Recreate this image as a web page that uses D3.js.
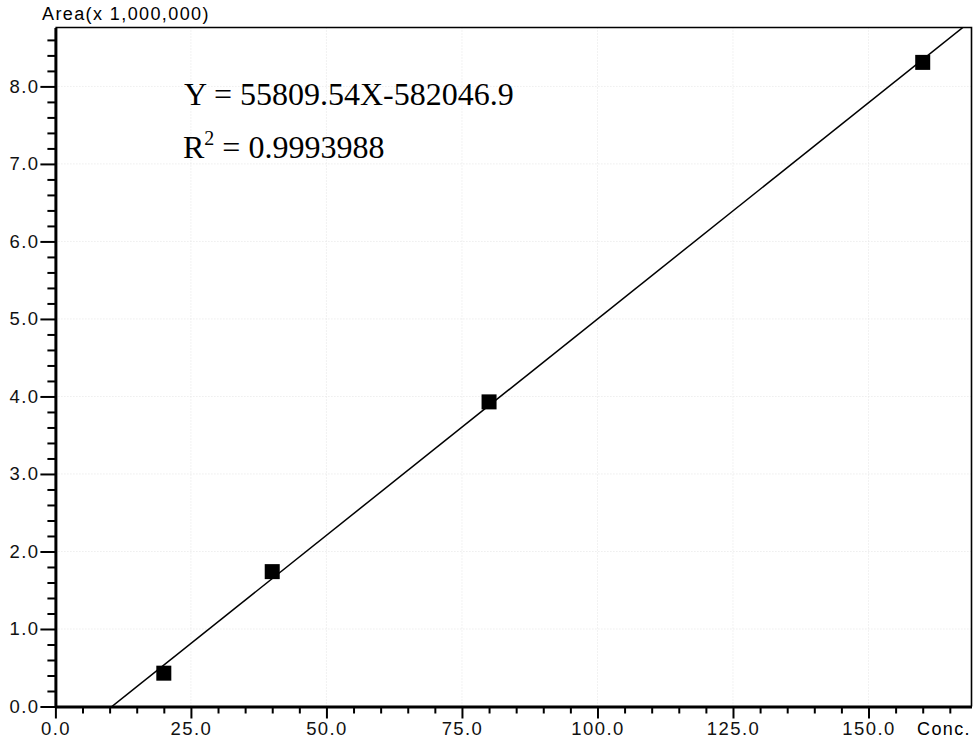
<!DOCTYPE html>
<html>
<head>
<meta charset="utf-8">
<script src="https://cdn.jsdelivr.net/npm/d3@7"></script>
<style>
  body { margin: 0; background: #fff; }
  svg { display: block; }
  .tick text { font-family: "Liberation Sans", Arial, sans-serif; font-size: 18.5px; letter-spacing: 1.4px; fill: #111; }
</style>
</head>
<body>
<script>
// calibration points (Conc., Area in millions)
var conc = [20, 40, 80, 160];
var area = [0.43, 1.74, 3.93, 8.31];

// regression result shown on the chart
var slope = 55809.54;
var intercept = -582046.9;
var r2 = "0.9993988";

// axis ticks
var xMajor = [0, 25, 50, 75, 100, 125, 150];
var xMinor = [5, 10, 15, 20, 30, 35, 40, 45, 55, 60, 65, 70, 80, 85, 90, 95, 105, 110, 115, 120, 130, 135, 140, 145, 155, 160, 165];
var yMajor = [0, 1, 2, 3, 4, 5, 6, 7, 8];
var yMinor = [];
yMajor.forEach(function(v) { [0.2, 0.4, 0.6, 0.8].forEach(function(f) { if (v + f < 8.7) yMinor.push(+(v + f).toFixed(1)); }); });

//---------setup plot-----------------------//
var W = 977, H = 745;
var pLeft = 55.4, pTop = 27.5, pRight = 971.5, pBottom = 706.5;

var x = d3.scaleLinear().domain([0, 169]).range([pLeft, pRight]);
var y = d3.scaleLinear().domain([0, 8.76]).range([pBottom, pTop]);

var svg = d3.select("body").append("svg")
    .attr("width", W)
    .attr("height", H);

svg.append("defs").append("clipPath").attr("id", "plot")
  .append("rect")
    .attr("x", pLeft).attr("y", pTop)
    .attr("width", pRight - pLeft).attr("height", pBottom - pTop);

// faint dotted gridlines
svg.append("g")
    .selectAll("line")
    .data(xMajor.slice(1))
    .enter().append("line")
    .attr("x1", function(d) { return x(d); }).attr("x2", function(d) { return x(d); })
    .attr("y1", pTop).attr("y2", pBottom)
    .attr("stroke", "#e4e4e4").attr("stroke-dasharray", "1,2");

svg.append("g")
    .selectAll("line")
    .data(yMajor.slice(1))
    .enter().append("line")
    .attr("y1", function(d) { return y(d); }).attr("y2", function(d) { return y(d); })
    .attr("x1", pLeft).attr("x2", pRight)
    .attr("stroke", "#e4e4e4").attr("stroke-dasharray", "1,2");

// top & right frame
svg.append("path")
    .attr("d", "M" + pLeft + "," + pTop + "H" + pRight + "V" + pBottom)
    .attr("fill", "none").attr("stroke", "#000").attr("stroke-width", 1.6);

// minor ticks
svg.append("g")
    .attr("transform", "translate(0," + pBottom + ")")
    .call(d3.axisBottom(x).tickValues(xMinor).tickSize(7).tickFormat(""))
    .call(function(g) { g.select(".domain").remove(); g.selectAll("line").attr("stroke-width", 2); });

svg.append("g")
    .attr("transform", "translate(" + pLeft + ",0)")
    .call(d3.axisLeft(y).tickValues(yMinor).tickSize(8).tickFormat(""))
    .call(function(g) { g.select(".domain").remove(); g.selectAll("line").attr("stroke-width", 2); });

// x-axis
svg.append("g")
    .attr("transform", "translate(0," + pBottom + ")")
    .call(d3.axisBottom(x).tickValues(xMajor).tickSize(12).tickSizeOuter(0).tickPadding(3).tickFormat(d3.format(".1f")))
    .call(function(g) {
        g.select(".domain").attr("stroke-width", 3);
        g.selectAll("line").attr("stroke-width", 2);
    });

// y-axis
svg.append("g")
    .attr("transform", "translate(" + pLeft + ",0)")
    .call(d3.axisLeft(y).tickValues(yMajor).tickSize(15).tickSizeOuter(0).tickPadding(1).tickFormat(d3.format(".1f")))
    .call(function(g) {
        g.select(".domain").attr("stroke-width", 3);
        g.selectAll("line").attr("stroke-width", 2);
    });

// axis titles
svg.append("text")
    .attr("x", 42).attr("y", 20)
    .style("font-family", "Liberation Sans, Arial, sans-serif")
    .style("font-size", "18px").style("letter-spacing", "1.4px")
    .text("Area(x 1,000,000)");

svg.append("text")
    .attr("x", 917).attr("y", 735)
    .style("font-family", "Liberation Sans, Arial, sans-serif")
    .style("font-size", "18px").style("letter-spacing", "1.4px")
    .text("Conc.");

//-------------data----------//
var fit = function(c) { return (slope * c + intercept) / 1e6; };
var line = d3.line()
    .x(function(d) { return x(d); })
    .y(function(d) { return y(fit(d)); });

svg.append("path")
    .attr("clip-path", "url(#plot)")
    .attr("d", line(x.domain()))
    .attr("fill", "none").attr("stroke", "#000").attr("stroke-width", 1.5);

var sq = 15;
svg.append("g")
    .selectAll("rect")
    .data(conc)
    .enter().append("rect")
    .attr("x", function(d) { return x(d) - sq / 2; })
    .attr("y", function(d, i) { return y(area[i]) - sq / 2; })
    .attr("width", sq).attr("height", sq)
    .attr("fill", "#000");

// equation
var eq = svg.append("g")
    .style("font-family", "Liberation Serif, Times New Roman, serif")
    .style("font-size", "32px");

eq.append("text").attr("x", 184).attr("y", 105)
    .text("Y = " + slope.toFixed(2) + "X" + intercept.toFixed(1));

var r = eq.append("text").attr("x", 183).attr("y", 158);
r.append("tspan").text("R");
r.append("tspan").attr("dy", -13).style("font-size", "20px").text("2");
r.append("tspan").attr("dy", 13).text(" = " + r2);
</script>
</body>
</html>
